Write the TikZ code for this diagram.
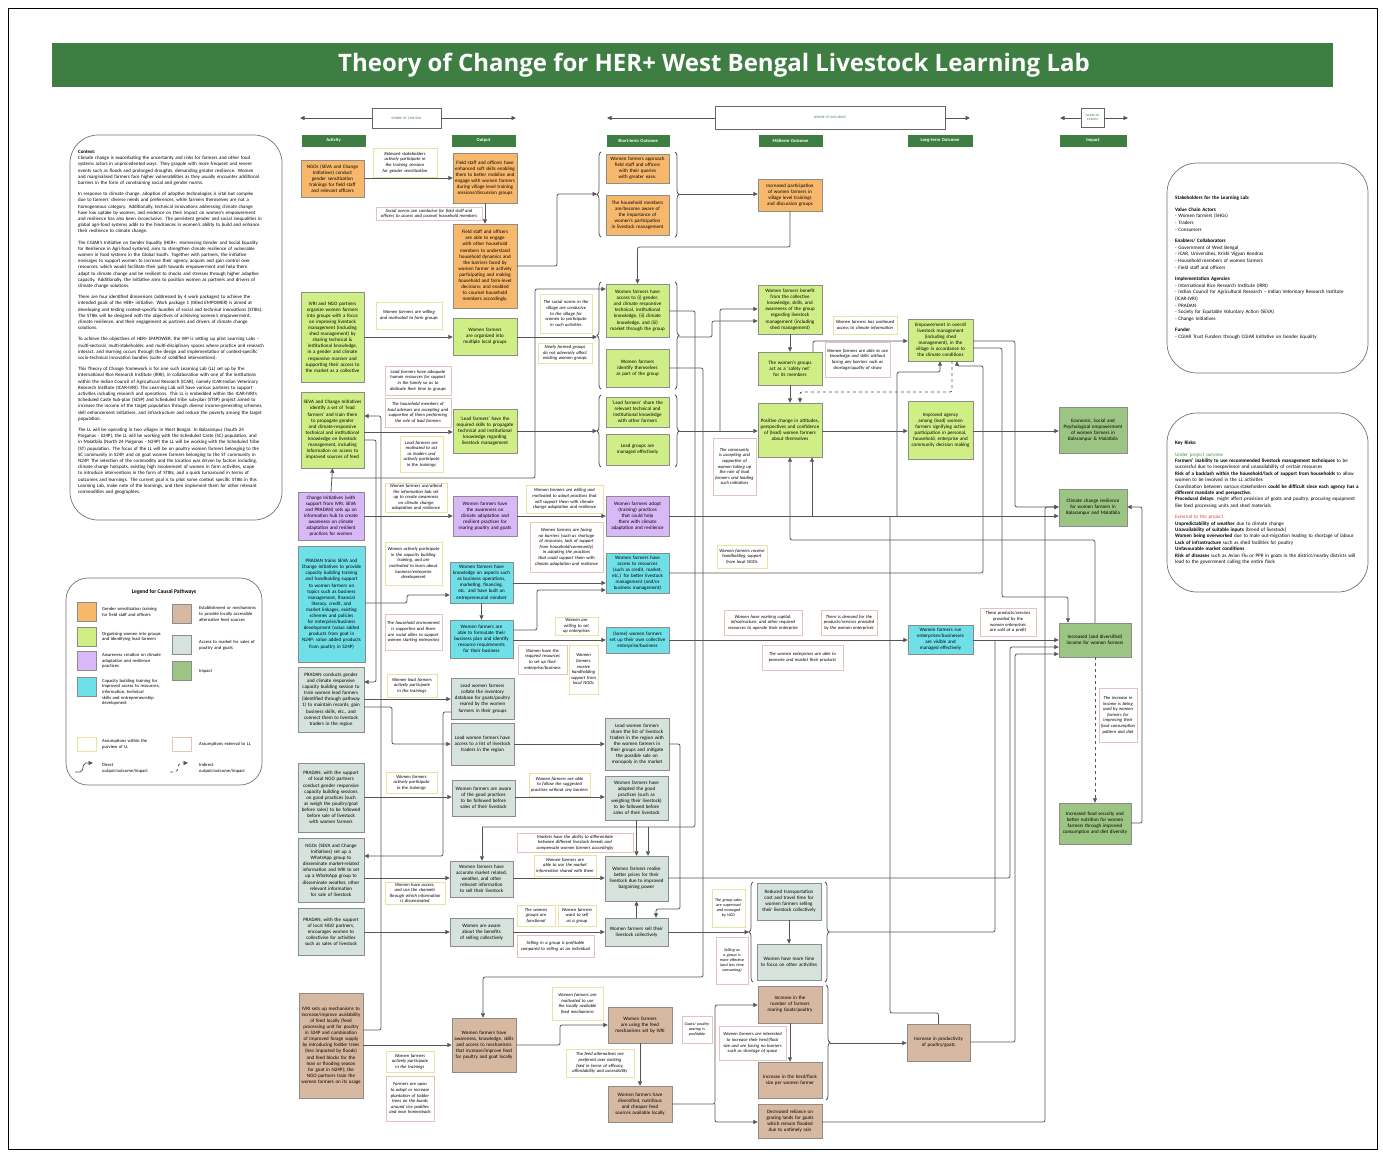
\documentclass[tikz,border=0pt]{standalone}
\usepackage{fontspec}
\setmainfont{Carlito}
\newfontfamily\titlefont{Open Sans}
\usetikzlibrary{arrows.meta,decorations.pathreplacing}
\hyphenpenalty=10000
\exhyphenpenalty=10000
\definecolor{cOr}{RGB}{248,184,108}
\definecolor{cLi}{RGB}{208,238,134}
\definecolor{cPu}{RGB}{216,184,246}
\definecolor{cCy}{RGB}{112,224,232}
\definecolor{cGr}{RGB}{214,226,220}
\definecolor{cBr}{RGB}{215,184,160}
\definecolor{cIm}{RGB}{156,196,130}
\definecolor{cHd}{RGB}{62,126,66}
\definecolor{cLn}{RGB}{85,85,85}
\definecolor{cAy}{RGB}{234,226,160}
\definecolor{cAp}{RGB}{230,196,190}
\definecolor{cRed}{RGB}{220,70,60}
\definecolor{cGrn}{RGB}{70,150,60}
\newcommand\mybox[7]{%
  \pgfmathsetmacro\mbw{#5-#3}%
  \pgfmathsetmacro\mbh{#6-#4}%
  \pgfmathsetmacro\mbt{#5-#3-4}%
  \pgfmathsetmacro\mbx{(#3+#5)/2}%
  \pgfmathsetmacro\mby{(#4+#6)/2}%
  \node[#2,minimum width=\mbw pt,minimum height=\mbh pt,text width=\mbt pt] (#1) at (\mbx,\mby) {#7};}
\tikzset{
 sNd/.style={draw=black!45,line width=0.4pt,align=center,inner xsep=2pt,inner ysep=1pt,font=\fontsize{5}{6.1}\selectfont},
 fOr/.style={sNd,fill=cOr},
 fLi/.style={sNd,fill=cLi},
 fPu/.style={sNd,fill=cPu},
 fCy/.style={sNd,fill=cCy},
 fGr/.style={sNd,fill=cGr},
 fBr/.style={sNd,fill=cBr},
 fIm/.style={sNd,fill=cIm},
 sAs/.style={sNd,fill=white,draw=cAy,line width=0.7pt,font=\fontsize{4.6}{5.6}\selectfont\itshape},
 sAx/.style={sAs,draw=cAp},
 sSm/.style={font=\fontsize{4.1}{5}\selectfont\itshape},
 sHd/.style={fill=cHd,draw=cHd,text=white,font=\fontsize{4.6}{5}\selectfont\bfseries,inner xsep=2pt,inner ysep=0.5pt,align=center},
 sSph/.style={draw=black!60,line width=0.5pt,fill=white,text=cHd,font=\fontsize{3.4}{4}\selectfont,align=center,inner xsep=2pt,inner ysep=0.5pt},
 sLn/.style={draw=cLn,line width=0.75pt,rounded corners=2pt},
 sAr/.style={sLn,-{Triangle[length=4.5pt,width=4pt]}},
 sBrc/.style={draw=cLn,line width=0.75pt,decorate,decoration={brace,amplitude=4pt}},
 rbox/.style={draw=black!55,line width=0.7pt,fill=white},
 sTx/.style={anchor=north west,align=left,inner sep=0pt,font=\fontsize{4.9}{6.2}\selectfont},
}
\begin{document}
\begin{tikzpicture}[x=1pt,y=-1pt]
\useasboundingbox (0,0) rectangle (1383,1155);
\fill[white] (0,0) rectangle (1383,1155);
\draw[black,line width=1pt] (8,9) rectangle (1377,1149);
% title
\fill[cHd] (52,43) rectangle (1333,87);
\node[text=white,font=\titlefont\bfseries\fontsize{24}{26}\selectfont] (title) at (714,65) {Theory of Change for HER+ West Bengal Livestock Learning Lab};
% spheres
\mybox{spC}{sSph}{372}{108}{441}{128}{SPHERE OF CONTROL}
\mybox{spF}{sSph}{715}{106}{945}{129}{SPHERE OF INFLUENCE}
\mybox{spI}{sSph,font=\fontsize{3}{3.6}\selectfont}{1081}{108}{1104}{127}{SPHERE OF INTEREST}
\draw[sLn,-{Triangle[length=4.5pt,width=4pt]}] (spC.west) -- (300,118);
\draw[sLn,-{Triangle[length=4.5pt,width=4pt]}] (spC.east) -- (516,118);
\draw[sLn,-{Triangle[length=4.5pt,width=4pt]}] (spF.west|-0,118) -- (607,118);
\draw[sLn,-{Triangle[length=4.5pt,width=4pt]}] (spF.east|-0,118) -- (970,118);
\draw[sLn,-{Triangle[length=4.5pt,width=4pt]}] (spI.west|-0,118) -- (1060,118);
\draw[sLn,-{Triangle[length=4.5pt,width=4pt]}] (spI.east|-0,118) -- (1128,118);
% headers
\mybox{hAct}{sHd}{302}{135}{365}{146}{Activity}
\mybox{hOut}{sHd}{452}{135}{515}{146}{Output}
\mybox{hST}{sHd}{607}{135}{669}{146}{Short-term Outcome}
\mybox{hMT}{sHd}{759}{135}{822}{146}{Midterm Outcome}
\mybox{hLT}{sHd}{908}{135}{972}{146}{Long-term Outcome}
\mybox{hImp}{sHd}{1060}{135}{1126}{146}{Impact}

% ===== context box
\draw[rbox,rounded corners=28pt] (70,135) rectangle (282,520);
\node[sTx,text width=186pt] (ctx) at (78,150) {\textbf{Context:}\\
Climate change is exacerbating the uncertainty and risks for farmers and other food systems actors in unprecedented ways. They grapple with more frequent and severe events such as floods and prolonged droughts, demanding greater resilience. Women and marginalised farmers face higher vulnerabilities as they usually encounter additional barriers in the form of constraining social and gender norms.\par\vskip5pt
In response to climate change, adoption of adaptive technologies is vital but complex due to farmers' diverse needs and preferences, while farmers themselves are not a homogeneous category. Additionally, technical innovations addressing climate change have low uptake by women, and evidence on their impact on women's empowerment and resilience has also been inconclusive. The persistent gender and social inequalities in global agri-food systems adds to the hindrances in women's ability to build and enhance their resilience to climate change.\par\vskip5pt
The CGIAR's Initiative on Gender Equality (HER+: Harnessing Gender and Social Equality for Resilience in Agri-food systems) aims to strengthen climate resilience of vulnerable women in food systems in the Global South. Together with partners, the initiative envisages to support women to increase their agency, acquire and gain control over resources, which would facilitate their path towards empowerment and help them adapt to climate change and be resilient to shocks and stresses through higher adaptive capacity. Additionally, the initiative aims to position women as partners and drivers of climate change solutions.\par\vskip5pt
There are four identified dimensions (addressed by 4 work packages) to achieve the intended goals of the HER+ initiative. Work package 1 (titled EMPOWER) is aimed at developing and testing context-specific bundles of social and technical innovations (STIBs). The STIBs will be designed with the objectives of achieving women's empowerment, climate resilience, and their engagement as partners and drivers of climate change solutions.\par\vskip5pt
To achieve the objectives of HER+ EMPOWER, the WP is setting up pilot Learning Labs -- multi-sectoral, multi-stakeholder, and multi-disciplinary spaces where practice and research interact, and learning occurs through the design and implementation of context-specific socio-technical innovation bundles (suite of solidified interventions).\par\vskip5pt
This Theory of Change framework is for one such Learning Lab (LL) set up by the International Rice Research Institute (IRRI), in collaboration with one of the institutions within the Indian Council of Agricultural Research (ICAR), namely ICAR-Indian Veterinary Research Institute (ICAR-IVRI). The Learning Lab will have various partners to support activities including research and operations. This LL is embedded within the ICAR-IVRI's Scheduled Caste Sub-plan (SCSP) and Scheduled tribe sub-plan (STSP) project aimed to increase the income of the target population through diverse income-generating schemes, skill enhancement initiatives, and infrastructure and reduce the poverty among the target population.\par\vskip5pt
The LL will be operating in two villages in West Bengal. In Balarampur (South 24 Parganas - S24P), the LL will be working with the Scheduled Caste (SC) population, and in Malatbila (North 24 Parganas - N24P) the LL will be working with the Scheduled Tribe (ST) population. The focus of the LL will be on poultry women farmers belonging to the SC community in S24P, and on goat women farmers belonging to the ST community in N24P. The selection of the commodity and the location was driven by factors including, climate change hotspots, existing high involvement of women in farm activities, scope to introduce interventions in the form of STIBs, and a quick turnaround in terms of outcomes and learnings. The current goal is to pilot some context specific STIBs in this Learning Lab, make note of the learnings, and then implement them for other relevant commodities and geographies.};

% ===== legend
\draw[rbox,rounded corners=22pt] (66,578) rectangle (262,785);
\node[font=\fontsize{5.6}{6}\selectfont\bfseries] (lgT) at (164,592) {Legend for Causal Pathways};
\tikzset{lsw/.style={draw=black!45,line width=0.4pt,minimum width=19pt,minimum height=19pt,inner sep=0pt},
 llb/.style={anchor=west,text width=60pt,align=left,inner sep=0pt,font=\fontsize{4.6}{5.6}\selectfont}}
\node[lsw,fill=cOr] (lg1) at (87,612) {};
\node[llb] (lt1) at (102,612) {Gender sensitization training for field staff and officers};
\node[lsw,fill=cLi] (lg2) at (87,637) {};
\node[llb] (lt2) at (102,637) {Organising women into groups and identifying lead farmers};
\node[lsw,fill=cPu] (lg3) at (87,661) {};
\node[llb] (lt3) at (102,661) {Awareness creation on climate adaptation and resilience practices};
\node[lsw,fill=cCy] (lg4) at (87,687) {};
\node[llb,anchor=north west] (lt4) at (102,679) {Capacity building training for improved access to resources, information, technical skills and entrepreneurship development};
\node[lsw,fill=cBr] (lg5) at (182,614) {};
\node[llb] (lt5) at (199,614) {Establishment or mechanisms to provide locally accessible alternative feed sources};
\node[lsw,fill=cGr] (lg6) at (182,645) {};
\node[llb] (lt6) at (199,645) {Access to market for sales of poultry and goats};
\node[lsw,fill=cIm] (lg7) at (182,671) {};
\node[llb] (lt7) at (199,671) {Impact};
\node[lsw,fill=white,draw=cAy,line width=0.7pt,minimum height=14pt] (lg8) at (87,744) {};
\node[llb] (lt8) at (102,744) {Assumptions within the purview of LL};
\node[lsw,fill=white,draw=cAp,line width=0.7pt,minimum height=14pt] (lg9) at (182,744) {};
\node[llb] (lt9) at (199,744) {Assumptions external to LL};
\coordinate (la1) at (75,772); \coordinate (la2) at (93,763);
\draw[sAr] (la1) -- (82,772) -- (84,763) -- (la2);
\node[llb] (lt10) at (102,768) {Direct\\ output/outcome/impact};
\coordinate (la3) at (170,772); \coordinate (la4) at (188,763);
\draw[sAr,dashed] (la3) -- (177,772) -- (179,763) -- (la4);
\node[llb] (lt11) at (199,768) {Indirect\\ output/outcome/impact};

% ===== stakeholders
\draw[rbox,rounded corners=30pt] (1167,163) rectangle (1368,373);
\node[sTx,text width=186pt,font=\fontsize{5.1}{6.6}\selectfont] (stk) at (1175,196) {\textbf{Stakeholders for the Learning Lab:}\par\vskip5pt
\textbf{Value Chain Actors}\\
- Women farmers (SHGs)\\
- Traders\\
- Consumers\par\vskip5pt
\textbf{Enablers/ Collaborators}\\
- Government of West Bengal\\
- ICAR, Universities, Krishi Vigyan Kendras\\
- Household members of women farmers\\
- Field staff and officers\par\vskip5pt
\textbf{Implementation Agencies}\\
- International Rice Research Institute (IRRI)\\
- Indian Council for Agricultural Research -- Indian Veterinary Research Institute (ICAR-IVRI)\\
- PRADAN\\
- Society for Equitable Voluntary Action (SEVA)\\
- Change Initiatives\par\vskip5pt
\textbf{Funder}\\
- CGIAR Trust Funders through CGIAR Initiative on Gender Equality};

% ===== key risks
\draw[rbox,rounded corners=30pt] (1167,413) rectangle (1368,592);
\node[sTx,text width=186pt,font=\fontsize{5.1}{6.4}\selectfont] (risk) at (1175,441) {\textbf{Key Risks:}\par\vskip5pt
{\color{cGrn}Under project purview}\\
\textbf{Farmers' inability to use recommended livestock management techniques} to be successful due to inexperience and unavailability of certain resources\\
\textbf{Risk of a backlash within the household/lack of support from households} to allow women to be involved in the LL activities\\
Coordination between various stakeholders \textbf{could be difficult since each agency has a different mandate and perspective.}\\
\textbf{Procedural delays}: might affect provision of goats and poultry, procuring equipment like feed processing units and shed materials\par\vskip5pt
{\color{cRed}External to the project}\\
\textbf{Unpredictability of weather} due to climate change\\
\textbf{Unavailability of suitable inputs} (breed of livestock)\\
\textbf{Women being overworked} due to male out-migration leading to shortage of labour\\
\textbf{Lack of infrastructure} such as shed facilities for poultry\\
\textbf{Unfavourable market conditions}\\
\textbf{Risk of diseases} such as Avian Flu or PPR in goats in the district/nearby districts will lead to the government culling the entire flock};

% ===== orange pathway
\mybox{aO}{fOr}{301}{160}{364}{197}{NGOs (SEVA and Change Initiatives) conduct gender sensitization trainings for field staff and relevant officers}
\mybox{asO1}{sAs}{373}{148}{437}{177}{Relevant stakeholders actively participate in the training sessions for gender sensitization}
\mybox{oO1}{fOr}{453}{153}{517}{203}{Field staff and officers have enhanced soft skills enabling them to better mobilise and engage with women farmers during village level training sessions/discussion groups}
\mybox{asO2}{sAx}{376}{207}{482}{220}{Social norms are conducive for field staff and officers to access and counsel household members}
\mybox{oO2}{fOr}{453}{224}{517}{308}{Field staff and officers are able to engage with other household members to understand household dynamics and the barriers faced by women farmer in actively participating and making household and farm-level decisions; and enabled to counsel household members accordingly.}
\mybox{sO1}{fOr}{606}{154}{669}{183}{Women farmers approach field staff and officers with their queries with greater ease.}
\mybox{sO2}{fOr}{606}{195}{669}{235}{The household members are/become aware of the importance of women's participation in livestock management}
\mybox{mO}{fOr}{758}{179}{822}{211}{Increased participation of women farmers in village level trainings and discussion groups}

% ===== green pathway
\mybox{aG1}{fLi}{301}{292}{364}{382}{IVRI and NGO partners organize women farmers into groups with a focus on improving livestock management (including shed management) by sharing technical \& institutional knowledge, in a gender and climate responsive manner and supporting their access to the market as a collective}
\mybox{asG1}{sAs}{376}{302}{442}{329}{Women farmers are willing and motivated to form groups}
\mybox{oG1}{fLi}{453}{318}{517}{355}{Women farmers are organized into multiple local groups}
\mybox{asG2}{sAs}{540}{294}{592}{333}{The social norms in the village are conducive to the village for women to participate in such activities}
\mybox{asG3}{sAs}{538}{343}{592}{363}{Newly formed groups do not adversely affect existing women groups}
\mybox{sG1}{fLi}{606}{284}{669}{337}{Women farmers have access to (i) gender, and climate responsive technical, institutional knowledge, (ii) climate knowledge, and (iii) market through the group}
\mybox{sG2}{fLi}{606}{349}{669}{387}{Women farmers identify themselves as part of the group}
\mybox{aG2}{fLi}{301}{392}{364}{468}{SEVA and Change Initiatives identify a set of `lead farmers' and train them to propagate gender and climate-responsive technical and institutional knowledge on livestock management, including information on access to improved sources of feed}
\mybox{asG4}{sAx}{385}{366}{451}{395}{Lead farmers have adequate human resources for support in the family so as to dedicate their time to groups}
\mybox{asG5}{sAx}{385}{398}{451}{427}{The household members of lead advisors are accepting and supportive of them performing the role of lead farmers}
\mybox{asG6}{sAs}{400}{436}{443}{472}{Lead farmers are motivated to act as leaders and actively participate in the trainings}
\mybox{oG2}{fLi}{453}{409}{517}{453}{`Lead farmers' have the required skills to propagate technical and institutional knowledge regarding livestock management}
\mybox{sG3}{fLi}{606}{397}{669}{427}{`Lead farmers' share the relevant technical and institutional knowledge with other farmers}
\mybox{sG4}{fLi}{606}{434}{669}{465}{Lead groups are managed effectively}
\mybox{mG1}{fLi}{758}{285}{822}{334}{Women farmers benefit from the collective knowledge, skills, and awareness of the group regarding livestock management (including shed management)}
\mybox{asM1}{sAs}{833}{316}{897}{334}{Women farmers has continued access to climate information}
\mybox{asM2}{sAx}{825}{342}{890}{377}{Women farmers are able to use knowledge and skills without facing any barriers such as shortage/quality of straw}
\mybox{mG2}{fLi}{758}{352}{822}{385}{The women's groups act as a `safety net' for its members}
\mybox{mG3}{fLi}{758}{403}{822}{457}{Positive change in attitudes, perspectives and confidence of (lead) women farmers about themselves}
\mybox{lG1}{fLi}{908}{319}{973}{361}{Empowerment in overall livestock management (including shed management), in the village in accordance to the climate conditions}
\mybox{lG2}{fLi}{908}{401}{973}{459}{Improved agency among (lead) women farmers signifying active participation in personal, household, enterprise and community decision making}
\mybox{asM3}{sAx}{713}{438}{756}{495}{The community is accepting and supportive of women taking up the role of lead farmers and leading such initiatives}

% ===== impacts
\mybox{i1}{fIm}{1059}{407}{1127}{453}{Economic, Social and Psychological empowerment of women farmers in Balarampur \& Malatbila}
\mybox{i2}{fIm}{1059}{489}{1127}{526}{Climate change resilience for women farmers in Balarampur and Malatbila}
\mybox{i3}{fIm}{1059}{623}{1131}{657}{Increased (and diversified) income for women farmers}
\mybox{i4}{fIm}{1059}{803}{1131}{844}{Increased food security and better nutrition for women farmers through improved consumption and diet diversity}
\mybox{asI}{sAx}{1099}{688}{1137}{742}{The increase in income is being used by women farmers for improving their food consumption pattern and diet}

% ===== purple pathway
\mybox{aP}{fPu}{298}{492}{364}{540}{Change Initiatives (with support from IVRI, SEVA and PRADAN) sets up an information hub to create awareness on climate adaptation and resilient practices for women}
\mybox{asP1}{sAs}{385}{483}{447}{512}{Women farmers use/attend the information hub set up to create awareness on climate change adaptation and resilience}
\mybox{oP}{fPu}{453}{496}{517}{536}{Women farmers have the awareness on climate adaptation and resilient practices for rearing poultry and goats}
\mybox{asP2}{sAs}{526}{485}{603}{513}{Women farmers are willing and motivated to adopt practices that will support them with climate change adaptation and resilience}
\mybox{asP3}{sAx}{530}{522}{603}{572}{Women farmers are facing no barriers (such as shortage of resources, lack of support from household/community) in adopting the practices that could support them with climate adaptation and resilience}
\mybox{sP}{fPu}{606}{496}{669}{536}{Women farmers adopt (training) practices that could help them with climate adaptation and resilience}

% ===== cyan pathway
\mybox{aC}{fCy}{298}{546}{365}{662}{PRADAN trains SEVA and Change Initiatives to provide capacity building training and handholding support to women farmers on topics such as business management, financial literacy, credit, and market linkages, existing schemes and policies for enterprise/business development (value added products from goat in N24P; value added products from poultry in S24P)}
\mybox{asC1}{sAs}{385}{542}{442}{585}{Women actively participate in the capacity building training, and are motivated to learn about business/enterprise development}
\mybox{oC1}{fCy}{450}{562}{513}{603}{Women farmers have knowledge on aspects such as business operations, marketing, financing, etc. and have built an entrepreneurial mindset}
\mybox{asC2}{sAx}{385}{614}{442}{650}{The household environment is supportive and there are social allies to support women starting enterprises}
\mybox{oC2}{fCy}{450}{620}{513}{658}{Women farmers are able to formulate their business plan and identify resource requirements for their business}
\mybox{sC1}{fCy}{606}{553}{669}{593}{Women farmers have access to resources (such as credit, market, etc.) for better livestock management (and/or business management)}
\mybox{asC3}{sAs}{555}{617}{598}{635}{Women are willing to set up enterprises}
\mybox{sC2}{fCy}{606}{627}{669}{653}{(Some) women farmers set up their own collective enterprise/business}
\mybox{asC4}{sAx}{518}{645}{567}{674}{Women have the required resources to set up their enterprise/business}
\mybox{asC5}{sAs}{569}{645}{598}{694}{Women farmers receive handholding support from local NGOs}
\mybox{asC6}{sAs}{717}{545}{767}{568}{Women farmers receive handholding support from local NGOs}
\mybox{asC7}{sAx}{724}{610}{802}{635}{Women have working capital, infrastructure, and other required resources to operate their enterprise}
\mybox{asC8}{sAx}{821}{610}{877}{635}{There is demand for the products/services provided by the women enterprises}
\mybox{asC9}{sAx}{762}{645}{843}{670}{The women enterprises are able to promote and market their products}
\mybox{lC}{fCy}{908}{625}{973}{654}{Women farmers run enterprises/businesses are visible and managed effectively}
\mybox{asC10}{sAx}{980}{608}{1036}{636}{These products/services provided by the women enterprises are sold at a profit}

% ===== grey pathway
\mybox{aY1}{fGr}{298}{667}{364}{732}{PRADAN conducts gender and climate responsive capacity building session to train women lead farmers (identified through pathway 1) to maintain records, gain business skills, etc., and connect them to livestock traders in the region}
\mybox{asY1}{sAs}{387}{674}{437}{697}{Women lead farmers actively participate in the trainings}
\mybox{oY1}{fGr}{451}{678}{514}{719}{Lead women farmers collate the inventory database for goats/poultry reared by the women farmers in their groups}
\mybox{oY2}{fGr}{451}{723}{514}{765}{Lead women farmers have access to a list of livestock traders in the region}
\mybox{sY1}{fGr}{605}{718}{669}{770}{Lead women farmers share the list of livestock traders in the region with the women farmers in their groups and mitigate the possible sale on monopoly in the market}
\mybox{aY2}{fGr}{298}{763}{364}{832}{PRADAN, with the support of local NGO partners conduct gender responsive capacity building sessions on good practices (such as weigh the poultry/goat before sales) to be followed before sale of livestock with women farmers}
\mybox{asY2}{sAs}{386}{772}{437}{793}{Women farmers actively participate in the trainings}
\mybox{oY3}{fGr}{452}{780}{515}{816}{Women farmers are aware of the good practices to be followed before sales of their livestock}
\mybox{asY3}{sAs}{529}{773}{590}{796}{Women farmers are able to follow the suggested practices without any barriers}
\mybox{sY2}{fGr}{605}{776}{668}{820}{Women farmers have adopted the good practices (such as weighing their livestock) to be followed before sales of their livestock}
\mybox{asY4}{sAx}{517}{833}{633}{852}{Markets have the ability to differentiate between different livestock breeds and compensate women farmers accordingly}
\mybox{aY3}{fGr}{298}{838}{364}{902}{NGOs (SEVA and Change Initiatives) set up a WhatsApp group to disseminate market-related information and IVRI to set up a WhatsApp group to disseminate weather, other relevant information for sale of livestock}
\mybox{asY5}{sAs}{534}{855}{596}{876}{Women farmers are able to use the market information shared with them}
\mybox{oY4}{fGr}{450}{861}{513}{897}{Women farmers have accurate market related, weather, and other relevant information to sell their livestock}
\mybox{asY6}{sAs}{385}{882}{445}{904}{Women have access, and use the channels through which information is disseminated}
\mybox{sY3}{fGr}{605}{856}{668}{901}{Women farmers realise better prices for their livestock due to improved bargaining power}
\mybox{aY4}{fGr}{298}{908}{364}{955}{PRADAN, with the support of local NGO partners, encourages women to collectivise for activities such as sales of livestock}
\mybox{oY5}{fGr}{450}{918}{513}{946}{Women are aware about the benefits of selling collectively}
\mybox{asY7}{sAs}{517}{905}{555}{926}{The women groups are functional}
\mybox{asY8}{sAs}{558}{905}{596}{926}{Women farmers want to sell as a group}
\mybox{asY9}{sAx}{517}{935}{594}{957}{Selling in a group is profitable compared to selling as an individual}
\mybox{sY4}{fGr}{605}{918}{668}{946}{Women farmers sell their livestock collectively}
\mybox{asY10}{sAs,sSm}{712}{889}{745}{927}{The group sales are supervised and managed by NGO}
\mybox{asY11}{sAx,sSm}{716}{937}{748}{984}{Selling as a group is more effective (and less time consuming)}
\mybox{mY1}{fGr}{757}{883}{821}{920}{Reduced transportation cost and travel time for women farmers selling their livestock collectively}
\mybox{mY2}{fGr}{757}{944}{821}{980}{Women have more time to focus on other activities}

% ===== brown pathway
\mybox{aB}{fBr}{299}{993}{363}{1098}{IVRI sets up mechanisms to increase/improve availability of feed locally (feed processing unit for poultry in S24P and combination of improved forage supply by introducing fodder trees (less impacted by floods) and feed blocks for the lean or flooding season for goat in N24P); the NGO partners train the women farmers on its usage}
\mybox{asB1}{sAs}{386}{1051}{434}{1072}{Women farmers actively participate in the trainings}
\mybox{asB2}{sAx}{386}{1076}{434}{1121}{Farmers are open to adopt or increase plantation of fodder trees on the bunds around rice paddies and near homesteads}
\mybox{oB}{fBr}{452}{1018}{516}{1072}{Women farmers have awareness, knowledge, skills and access to mechanisms that increase/improve feed for poultry and goat locally}
\mybox{asB3}{sAs}{552}{987}{603}{1020}{Women farmers are motivated to use the locally available feed mechanisms}
\mybox{sB1}{fBr}{608}{1007}{672}{1043}{Women farmers are using the feed mechanisms set by IVRI}
\mybox{asB4}{sAs}{566}{1049}{634}{1077}{The feed alternatives are preferred over existing feed in terms of efficacy, affordability and accessibility}
\mybox{sB2}{fBr}{608}{1086}{672}{1122}{Women farmers have diversified, nutritious and cheaper feed sources available locally}
\mybox{asB5}{sAx,sSm}{682}{1016}{712}{1043}{Goats/ poultry rearing is profitable}
\mybox{mB1}{fBr}{758}{986}{822}{1023}{Increase in the number of farmers rearing Goats/poultry}
\mybox{asB6}{sAx}{719}{1026}{786}{1060}{Women farmers are interested to increase their herd/flock size and are facing no barriers such as shortage of space}
\mybox{mB2}{fBr}{758}{1062}{822}{1098}{Increase in the herd/flock size per women farmer}
\mybox{mB3}{fBr}{758}{1104}{822}{1138}{Decreased reliance on grazing lands for goats which remain flooded due to untimely rain}
\mybox{lB}{fBr}{907}{1024}{970}{1061}{Increase in productivity of poultry/goats}

% ===== braces
\draw[sBrc] (601,237) -- (601,152);
\draw[sBrc] (675,152) -- (675,237);
\draw[sBrc] (601,389) -- (601,282);
\draw[sBrc] (675,282) -- (675,389);
\draw[sBrc] (601,467) -- (601,395);
\draw[sBrc] (675,395) -- (675,467);
\draw[sBrc] (753,982) -- (753,882);
\draw[sBrc] (825,882) -- (825,982);
\draw[sBrc] (826,985) -- (826,1100);
\coordinate (bOl) at (597,194); \coordinate (bOr) at (679,194);
\coordinate (bG1l) at (597,337); \coordinate (bG1r) at (679,337);
\coordinate (bG2l) at (597,431); \coordinate (bG2r) at (679,431);
\coordinate (bYl) at (749,932); \coordinate (bYr) at (829,932);
\coordinate (bBr) at (830,1043);

% ===== connectors: orange
\draw[sAr] (aO.east|-0,178) -- (oO1.west|-0,178);
\draw[sAr] (oO1.south) -- (oO2.north);
\draw[sAr] (oO2.east|-0,266) -- (557,266) -- (557,194) -- (bOl);
\draw[sAr] (bOr) -- (mO.west|-0,194);
\draw[sAr] (mO.south) -- (790,247) -- (637.5,247) -- (sG1.north);
% green
\draw[sAr] (aG1.east|-0,337) -- (oG1.west|-0,337);
\draw[sAr] (oG1.east|-0,337) -- (bG1l);
\draw[sAr] (535,337) -- (535,289) -- (sG1.west|-0,289);
\draw[sAr] (aG2.east|-0,432) -- (oG2.west|-0,432);
\draw[sAr] (oG2.east|-0,431) -- (bG2l);
\draw[sAr] (aP.north) -- (aG2.south);
\draw[sLn] (aP.north|-0,478) -- (535,478) -- (535,337);
\draw[sAr] (aG2.east|-0,440) -- (376,440) -- (376,682) -- (aY1.east|-0,682);
\draw[sAr] (aB.east|-0,1030) -- (381,1030) -- (381,416) -- (aG2.east|-0,416);
\draw[sAr] (bG1r) -- (712,337) -- (712,321) -- (mG1.west|-0,321);
\draw[sAr] (bG2r) -- (mG3.west|-0,431);
\draw[sAr] (720,431) -- (720,309) -- (mG1.west|-0,309);
\draw[sAr] (mG1.south) -- (mG2.north);
\draw[sAr] (mG2.south) -- (mG3.north);
\draw[sAr] (mG2.north-|813,0) -- (813,341) -- (lG1.west|-0,341);
\draw[sAr,dashed] (lG1.south-|952,0) -- (952,392) -- (800,392) -- (mG3.north-|800,0);
\draw[sAr] (mG3.east|-0,431) -- (lG2.west|-0,431);
\draw[sAr] (lG2.east|-0,431) -- (i1.west|-0,431);
\draw[sAr] (lG1.east|-0,341) -- (1015,341) -- (1015,507) -- (i2.west|-0,507);
\draw[sAr] (lG1.east|-0,348) -- (1002,348) -- (1002,597) -- (1068,597) -- (i3.north-|1068,0);
% purple
\draw[sAr] (aP.east|-0,516) -- (oP.west|-0,516);
\draw[sAr] (oP.east|-0,516) -- (sP.west|-0,516);
\draw[sAr] (sP.east|-0,516) -- (i2.west|-0,516);
\draw[sAr] (812,516) -- (mG3.south-|812,0);
\draw[sAr] (897,516) -- (897,372) -- (940,372) -- (lG1.south-|940,0);
% cyan
\draw[sAr] (aC.east|-0,603) -- (407,603) -- (407,595) -- (oC1.west|-0,595);
\draw[sAr] (oC1.south) -- (oC2.north);
\draw[sAr] (oC1.east|-0,583) -- (sC1.west|-0,583);
\draw[sAr] (oC2.east|-0,630) -- (537,630) -- (537,590) -- (sC1.west|-0,590);
\draw[sAr] (oC2.east|-0,640) -- (sC2.west|-0,640);
\draw[sAr] (sC1.east|-0,573) -- (983,573) -- (983,366) -- (957,366) -- (lG1.south-|957,0);
\draw[sAr] (sC2.east|-0,640) -- (lC.west|-0,640);
\draw[sAr] (lC.east|-0,640) -- (i3.west|-0,640);
% grey
\draw[sAr] (aY1.east|-0,699) -- (oY1.west|-0,699);
\draw[sAr] (aY1.east|-0,707) -- (392,707) -- (392,744) -- (oY2.west|-0,744);
\draw[sAr] (oY1.west|-0,712) -- (443,712) -- (443,856) -- (aY3.east|-0,856);
\draw[sAr] (oY2.east|-0,744) -- (sY1.west|-0,744);
\draw[sAr] (sY1.east|-0,744) -- (680,744) -- (680,909) -- (656,909) -- (sY4.north-|656,0);
\draw[sAr] (aY2.east|-0,797) -- (oY3.west|-0,797);
\draw[sAr] (oY3.east|-0,797) -- (sY2.west|-0,797);
\draw[sAr] (sY2.south) -- (sY3.north);
\draw[sLn] (sG1.east|-0,311) -- (695,311) -- (695,827) -- (482,827);
\draw[sAr] (482,827) -- (oY4.north-|482,0);
\draw[sAr] (648,827) -- (sY3.north-|648,0);
\draw[sAr] (aY3.east|-0,878) -- (oY4.west|-0,878);
\draw[sAr] (oY4.east|-0,878) -- (sY3.west|-0,878);
\draw[sAr] (sY3.east|-0,878) -- (1010,878) -- (1010,647) -- (i3.west|-0,647);
\draw[sAr] (aY4.east|-0,932) -- (oY5.west|-0,932);
\draw[sAr] (oY5.east|-0,932) -- (sY4.west|-0,932);
\draw[sAr] (sY4.north) -- (sY3.south);
\draw[sAr] (sY4.east|-0,932) -- (bYl);
\draw[sAr] (mY1.south) -- (mY2.north);
\draw[sLn] (bYr) -- (995,932) -- (995,640);
\draw[sAr] (sG2.east|-0,368) -- (703,368) -- (703,977) -- (483,977) -- (oB.north-|483,0);
% brown
\draw[sAr] (aB.east|-0,1045) -- (oB.west|-0,1045);
\draw[sAr] (oB.east|-0,1045) -- (560,1045) -- (560,1025) -- (sB1.west|-0,1025);
\draw[sAr] (sB1.south) -- (sB2.north);
\draw[sAr] (sB2.east|-0,1104) -- (715,1104) -- (715,1005) -- (mB1.west|-0,1005);
\draw[sAr] (715,1104) -- (715,1122) -- (mB3.west|-0,1122);
\draw[sAr] (mB1.south) -- (mB2.north);
\draw[sAr] (bBr) -- (lB.west|-0,1043);
\draw[sAr] (lB.east|-0,1042) -- (1015,1042) -- (1015,654) -- (i3.west|-0,654);
\draw[sLn] (lB.north) -- (938.5,1013) -- (890,1013) -- (890,516);
\draw[sAr] (mB3.east|-0,1122) -- (1045,1122) -- (1045,507) -- (i2.west|-0,507);
% impacts
\draw[sAr] (i3.north-|1095,0) -- (1095,540) -- (790,540) -- (mG3.south);
\draw[sAr,dashed] (i3.south-|1095,0) -- (i4.north-|1095,0);
\draw[sAr] (i4.east|-0,823) -- (1142,823) -- (1142,507) -- (i2.east|-0,507);
\end{tikzpicture}
\end{document}
